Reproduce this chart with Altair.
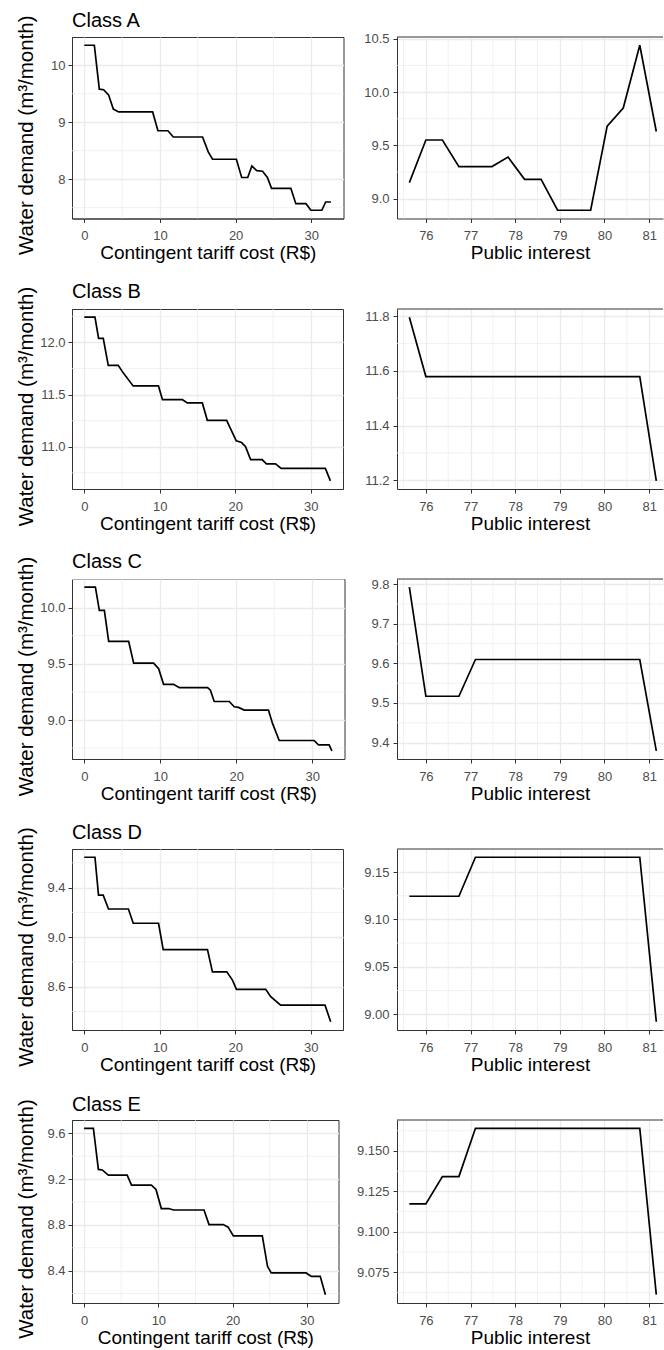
import altair as alt
import pandas as pd

FONT = "Liberation Sans"

# ---- Contingent tariff cost (R$) -> water demand (m3/month), one curve per class
tariff_a = [0, 1.32, 1.98, 2.55, 3.2, 3.83, 4.54, 9.03, 9.73, 11.05, 11.76, 15.63, 16.38, 16.95,
            20.1, 20.8, 21.6, 22.15, 22.8, 23.56, 24.2, 24.75, 27.3, 27.96, 29.3, 29.95, 31.4, 31.9, 32.6]
demand_a = [10.35, 10.35, 9.58, 9.57, 9.48, 9.23, 9.18, 9.18, 8.85, 8.85, 8.74, 8.74, 8.48, 8.35,
            8.35, 8.03, 8.03, 8.23, 8.15, 8.14, 8.03, 7.84, 7.84, 7.57, 7.57, 7.455, 7.455, 7.6, 7.6]

tariff_b = [0, 1.41, 1.89, 2.51, 3.17, 4.49, 5.15, 6.47, 9.82, 10.35, 12.99, 13.65, 15.63, 16.29,
            18.85, 20.12, 20.83, 21.36, 22.02, 23.55, 24.12, 25.32, 26.07, 31.93, 32.59]
demand_b = [12.242, 12.242, 12.038, 12.038, 11.78, 11.78, 11.708, 11.583, 11.583, 11.451, 11.451,
            11.42, 11.42, 11.253, 11.253, 11.056, 11.04, 11.0, 10.877, 10.877, 10.836, 10.836,
            10.792, 10.792, 10.673]

tariff_c = [0, 1.45, 1.97, 2.63, 3.2, 5.83, 6.49, 9.12, 9.78, 10.43, 11.75, 12.5, 16.23, 16.6, 17.1,
            19.08, 19.74, 20.3, 21.05, 24.25, 24.78, 25.66, 30.26, 30.83, 32.24, 32.6]
demand_c = [10.182, 10.182, 9.976, 9.976, 9.7, 9.7, 9.506, 9.506, 9.456, 9.318, 9.318, 9.288, 9.288,
            9.265, 9.165, 9.165, 9.118, 9.112, 9.088, 9.088, 8.97, 8.818, 8.818, 8.779, 8.779, 8.726]

tariff_d = [0, 1.41, 1.88, 2.5, 3.2, 5.84, 6.48, 9.83, 10.45, 16.31, 16.97, 18.87, 19.62, 20.15,
            24.03, 24.69, 26.0, 31.88, 32.63]
demand_d = [9.645, 9.645, 9.339, 9.339, 9.227, 9.227, 9.112, 9.112, 8.899, 8.899, 8.72, 8.72, 8.653,
            8.579, 8.579, 8.52, 8.451, 8.451, 8.317]

tariff_e = [0, 1.25, 1.92, 2.45, 3.26, 5.8, 6.38, 9.06, 9.68, 10.4, 11.38, 12.05, 16.15, 16.82,
            18.74, 19.4, 20.1, 24.0, 24.7, 25.2, 29.9, 30.6, 31.8, 32.5]
demand_e = [9.644, 9.644, 9.285, 9.28, 9.235, 9.235, 9.147, 9.147, 9.11, 8.943, 8.943, 8.93, 8.93,
            8.803, 8.803, 8.78, 8.704, 8.704, 8.438, 8.38, 8.38, 8.35, 8.35, 8.19]

# ---- Public interest -> water demand
interest = [75.63, 76.00, 76.37, 76.74, 77.11, 77.48, 77.84, 78.21, 78.58, 78.95, 79.32, 79.69,
            80.06, 80.42, 80.79, 81.16]
pi_a = [9.15, 9.55, 9.55, 9.30, 9.30, 9.30, 9.39, 9.18, 9.18, 8.89, 8.89, 8.89, 9.68, 9.85, 10.44, 9.63]
pi_b = [11.796, 11.579, 11.579, 11.579, 11.579, 11.579, 11.579, 11.579, 11.579, 11.579, 11.579,
        11.579, 11.579, 11.579, 11.579, 11.198]
pi_c = [9.793, 9.517, 9.517, 9.517, 9.61, 9.61, 9.61, 9.61, 9.61, 9.61, 9.61, 9.61, 9.61, 9.61,
        9.61, 9.379]
pi_d = [9.1245, 9.1245, 9.1245, 9.1245, 9.1657, 9.1657, 9.1657, 9.1657, 9.1657, 9.1657, 9.1657,
        9.1657, 9.1657, 9.1657, 9.1657, 8.992]
pi_e = [9.1173, 9.1173, 9.1342, 9.1342, 9.164, 9.164, 9.164, 9.164, 9.164, 9.164, 9.164, 9.164,
        9.164, 9.164, 9.164, 9.0612]

# ---- axis breaks
classes = ["Class A", "Class B", "Class C", "Class D", "Class E"]
tariff_major = [0, 10, 20, 30]
tariff_minor = [5, 15, 25]
interest_major = [76, 77, 78, 79, 80, 81]
interest_minor = [75.5, 76.5, 77.5, 78.5, 79.5, 80.5]
left_major = [[8, 9, 10], [11.0, 11.5, 12.0], [9.0, 9.5, 10.0], [8.6, 9.0, 9.4], [8.4, 8.8, 9.2, 9.6]]
left_minor = [[7.5, 8.5, 9.5], [10.75, 11.25, 11.75, 12.25], [8.75, 9.25, 9.75, 10.25],
              [8.4, 8.8, 9.2, 9.6], [8.2, 8.6, 9.0, 9.4]]
left_fmt = [".0f", ".1f", ".1f", ".1f", ".1f"]
right_major = [[9.0, 9.5, 10.0, 10.5], [11.2, 11.4, 11.6, 11.8], [9.4, 9.5, 9.6, 9.7, 9.8],
               [9.00, 9.05, 9.10, 9.15], [9.075, 9.100, 9.125, 9.150]]
right_minor = [[9.25, 9.75, 10.25], [11.3, 11.5, 11.7], [9.45, 9.55, 9.65, 9.75],
               [9.025, 9.075, 9.125], [9.0625, 9.0875, 9.1125, 9.1375, 9.1625]]
right_fmt = [".1f", ".1f", ".1f", ".2f", ".3f"]

tariffs = [tariff_a, tariff_b, tariff_c, tariff_d, tariff_e]
demands = [demand_a, demand_b, demand_c, demand_d, demand_e]
interests = [pi_a, pi_b, pi_c, pi_d, pi_e]

# ---- panel sizes (pixels)
row_h = [181.5, 180, 180, 181, 183]
left_w = [271.5, 271, 272.5, 271, 266.5]
RIGHT_W = 266
COL_GAP = 52
ROW_GAP = 90
INTEREST_VISIBLE_MAX = 81.31   # the right-hand panels run off the page edge

BORDER = "#333333"
GRID = "#EBEBEB"


def expanded(values):
    lo, hi = min(values), max(values)
    pad = 0.05 * (hi - lo)
    return [lo - pad, hi + pad]


def panel(xs, ys, xdom, ydom, xmaj, xmin_, ymaj, ymin_, yfmt, xtitle, w, h,
          ytitle=None, label_pad=3, open_right=False):
    xscale = alt.Scale(domain=xdom, nice=False, zero=False)
    yscale = alt.Scale(domain=ydom, nice=False, zero=False)
    xaxis = alt.Axis(values=xmaj, format="d", title=xtitle, grid=True, labelPadding=7,
                     titleY=40, titleBaseline="alphabetic")
    if ytitle:
        yaxis = alt.Axis(values=ymaj, format=yfmt, grid=True, labelPadding=label_pad,
                         title=ytitle, titleFontSize=20.5, titleAngle=270, titleX=-39.5,
                         titleY=h / 2 + 7, titleBaseline="alphabetic")
    else:
        yaxis = alt.Axis(values=ymaj, format=yfmt, grid=True, labelPadding=label_pad, title=None)

    # minor grid lines share the panel's axes so the layers merge cleanly
    vminor = alt.Chart(pd.DataFrame({"v": xmin_})).mark_rule(
        color=GRID, strokeWidth=0.7).encode(x=alt.X("v:Q", scale=xscale, axis=xaxis))
    hminor = alt.Chart(pd.DataFrame({"v": ymin_})).mark_rule(
        color=GRID, strokeWidth=0.7).encode(y=alt.Y("v:Q", scale=yscale, axis=yaxis))
    line = alt.Chart(pd.DataFrame({"x": xs, "y": ys})).mark_line(
        color="black", strokeWidth=1.7).encode(
        x=alt.X("x:Q", scale=xscale, axis=xaxis),
        y=alt.Y("y:Q", scale=yscale, axis=yaxis),
    )
    layers = [vminor, hminor, line]
    if open_right:
        # panel runs past the page edge: draw only the top edge of its border
        top = alt.Chart(pd.DataFrame({"v": [ydom[1]]})).mark_rule(
            color=BORDER, strokeWidth=1).encode(y=alt.Y("v:Q", scale=yscale, axis=yaxis))
        layers.append(top)
    out = alt.layer(*layers).properties(width=w, height=h)
    if open_right:
        out = out.properties(view=alt.ViewBackground(stroke="transparent"))
    return out


panels = []
left_x_dom = expanded(tariff_a + tariff_b + tariff_c + tariff_d + tariff_e)
right_x_dom = [expanded(interest)[0], INTEREST_VISIBLE_MAX]
for i in range(5):
    left = panel(tariffs[i], demands[i], left_x_dom, expanded(demands[i]),
                 tariff_major, tariff_minor, left_major[i], left_minor[i], left_fmt[i],
                 "Contingent tariff cost (R$)", left_w[i], row_h[i],
                 ytitle="Water demand (m³/month)", label_pad=3).properties(
        # the title is laid out past the rotated y-axis title, hence the negative offset
        title=alt.TitleParams(classes[i], anchor="start", frame="group", fontSize=20,
                              fontWeight="normal", baseline="alphabetic", offset=-32,
                              color="black"))
    right = panel(interest, interests[i], right_x_dom, expanded(interests[i]),
                  interest_major, interest_minor, right_major[i], right_minor[i], right_fmt[i],
                  "Public interest", RIGHT_W, row_h[i], label_pad=4, open_right=True)
    panels += [left, right]

chart = alt.concat(
    *panels, columns=2, spacing={"row": ROW_GAP, "column": COL_GAP}, bounds="flush"
).properties(
    padding={"left": 15, "top": 10, "right": 0, "bottom": 0}
).configure(
    background="white", font=FONT
).configure_view(
    stroke=BORDER, strokeWidth=1
).configure_axis(
    labelFont=FONT, labelFontSize=13, labelColor="#4D4D4D",
    titleFont=FONT, titleFontSize=19, titleColor="black", titleFontWeight="normal",
    tickColor=BORDER, tickSize=4, tickWidth=1,
    domainColor=BORDER, domainWidth=1,
    gridColor=GRID, gridWidth=1.3,
)

chart.save("out.html", embed_options={"renderer": "svg", "actions": False})
